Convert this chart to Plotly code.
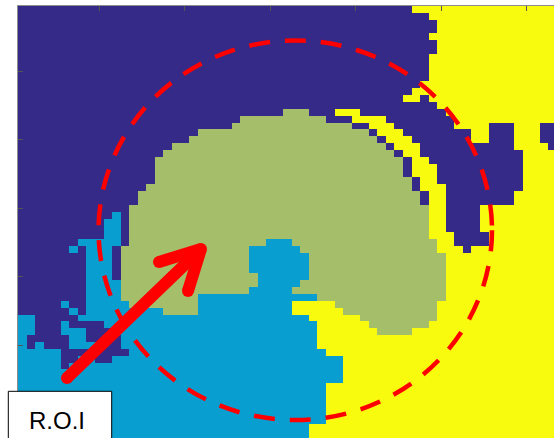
import plotly.graph_objects as go

# ---- data: segmentation classes per row, as "class+start column" runs ----
class_names = ["P", "B", "G", "Y"]          # purple, light blue, green, yellow
class_colors = ["#352A87", "#089ED0", "#A5BE6A", "#F9FB0E"]
n_cols = 63
n_rows = 63
row_runs = [
    "P1 Y47", "P1 Y49", "P1 Y50", "P1 Y50", "P1 Y49", "P1 Y50", "P1 Y50",
    "P1 Y49", "P1 Y49", "P1 Y49", "P1 Y49", "P1 Y48", "P1 Y47",
    "P1 Y46 P48 Y49", "P1 Y50",
    "P1 G32 P35 Y38 P41 Y51",
    "P1 G27 P37 Y40 P44 Y52",
    "P1 G26 P40 Y42 P45 Y52 P56 Y59 P62",
    "P1 G22 P42 Y43 P46 Y54 P56 Y59 P62",
    "P1 G21 P43 Y44 P47 Y54 P56 Y59 P62",
    "P1 G19 P44 Y45 P48 Y59 P63",
    "P1 G18 P45 Y46 P48 Y60",
    "P1 G17 P46 Y47 P49 Y60",
    "P1 G17 P46 Y47 P50 Y60",
    "P1 G17 P46 Y47 P50 Y60",
    "P1 G17 P47 Y48 P50 Y60",
    "P1 G16 P47 Y48 P51 Y60",
    "P1 G15 P48 Y49 P51 Y59",
    "P1 G15 P48 Y49 P51 Y59",
    "P1 G14 Y49 P51 Y55",
    "P1 B12 P13 G14 Y49 P51 Y55",
    "P1 B11 P13 G14 Y49 P51 Y55",
    "P1 B11 P13 G14 Y49 P51 Y55",
    "P1 B11 P13 G14 Y49 P52 Y56",
    "P1 B8 P13 G14 B30 G33 Y50 P52 Y56",
    "P1 B7 P8 B9 P12 G13 B28 G34 Y50 P53 Y54",
    "P1 B9 P12 G13 B28 G35 Y51",
    "P1 B9 P12 G13 B28 G35 Y51",
    "P1 B9 P12 G13 B28 G35 Y51",
    "P1 B9 P12 G13 B29 G35 Y51",
    "P1 B9 G13 B29 G34 Y51",
    "P1 B9 G13 B28 G33 Y51",
    "P1 B9 G13 B22 G36 Y51",
    "P1 B6 P7 B9 G14 B22 Y33 G38 Y50",
    "P1 B7 P8 B9 G18 B22 Y33 G39 Y50",
    "B1 P3 B8 Y35 G41 Y50",
    "B1 P3 B6 P7 B11 Y36 G42 Y49",
    "B1 P3 B6 P9 B12 Y36 G43 Y47",
    "B1 P2 B7 P9 B13 Y36",
    "B1 P2 B3 P4 B7 P11 B13 Y36",
    "B1 P6 B14 Y37",
    "B1 P6 B8 P10 B12 Y39",
    "B1 P6 B7 Y39",
    "B1 Y39", "B1 Y39",
    "B1 Y37", "B1 Y37", "B1 Y37", "B1 Y37", "B1 Y37", "B1 Y37",
    "B1 Y35", "B1 Y35",
]
tick_vals = [10, 20, 30, 40, 50, 60]

# overlay annotations (in grid units: column / row)
circle_box = {"x0": 9.92, "x1": 55.94, "y0": 5.53, "y1": 60.88}
arrow_tail = (6.23, 54.75)
arrow_tip = (21.90, 35.94)
arrow_barb1 = (16.99, 37.83)
arrow_barb2 = (20.38, 42.06)
roi_label = "R.O.I"


def decode(run):
    parts = [(p[0], int(p[1:])) for p in run.split()]
    row = [0] * n_cols
    for i, (c, s) in enumerate(parts):
        e = parts[i + 1][1] if i + 1 < len(parts) else n_cols + 1
        for k in range(s, e):
            row[k - 1] = class_names.index(c)
    return row


z = [decode(r) for r in row_runs]
xs = list(range(1, n_cols + 1))
ys = list(range(1, n_rows + 1))

cs = []
for i, col in enumerate(class_colors):
    cs.append([i / 4, col])
    cs.append([(i + 1) / 4, col])

W, H = 554, 438
ML, MT = 18, 6
plot_w = W - ML
plot_h = H - MT
col_px = 8.55

fig = go.Figure()
fig.add_trace(go.Heatmap(
    z=z, x=xs, y=ys, colorscale=cs, zmin=-0.5, zmax=3.5,
    showscale=False, hoverinfo="skip", xgap=0, ygap=0,
))

# red arrow
fig.add_trace(go.Scatter(
    x=[arrow_tail[0], arrow_tip[0], None, arrow_barb1[0], arrow_tip[0], arrow_barb2[0]],
    y=[arrow_tail[1], arrow_tip[1], None, arrow_barb1[1], arrow_tip[1], arrow_barb2[1]],
    mode="lines", line=dict(color="#FF0000", width=12),
    hoverinfo="skip", showlegend=False,
))
fig.add_trace(go.Scatter(
    x=[arrow_tail[0], arrow_barb1[0], arrow_barb2[0], arrow_tip[0]],
    y=[arrow_tail[1], arrow_barb1[1], arrow_barb2[1], arrow_tip[1]],
    mode="markers", marker=dict(color="#FF0000", size=12, line=dict(width=0)),
    hoverinfo="skip", showlegend=False,
))

# dashed red circle
fig.add_shape(type="circle", xref="x", yref="y", layer="above",
              line=dict(color="#FF0000", width=4.5, dash="21px,15px"),
              **circle_box)

# R.O.I box
fig.add_shape(type="rect", xref="paper", yref="paper", layer="above",
              x0=(8.3 - ML) / plot_w, x1=(111.7 - ML) / plot_w,
              y0=-0.03, y1=(H - 391.3) / plot_h,
              fillcolor="white", line=dict(color="black", width=1))
fig.add_annotation(xref="paper", yref="paper", x=(57 - ML) / plot_w,
                   y=(H - 420.5) / plot_h, text=roi_label, showarrow=False,
                   font=dict(family="Liberation Sans, Arial", size=24, color="black"),
                   xanchor="center", yanchor="middle")

fig.update_layout(
    width=W, height=H,
    margin=dict(l=ML, r=0, t=MT, b=0, autoexpand=False),
    paper_bgcolor="white", plot_bgcolor="white",
    showlegend=False, hovermode=False,
    xaxis=dict(range=[0.5, 0.5 + plot_w / col_px], side="top",
               showline=True, linecolor="#8c8c8c", linewidth=1.5,
               ticks="inside", ticklen=5, tickcolor="#555555",
               tickvals=tick_vals, showticklabels=False,
               showgrid=False, zeroline=False),
    yaxis=dict(range=[n_rows + 0.5, 0.5],
               showline=True, linecolor="#8c8c8c", linewidth=1.5,
               ticks="inside", ticklen=5, tickcolor="#555555",
               tickvals=tick_vals, showticklabels=False,
               showgrid=False, zeroline=False),
)

fig.write_html("out.html",
               config={"displayModeBar": False, "staticPlot": True},
               post_script="document.body.style.margin='0px';"
                           "document.body.style.overflow='hidden';")
